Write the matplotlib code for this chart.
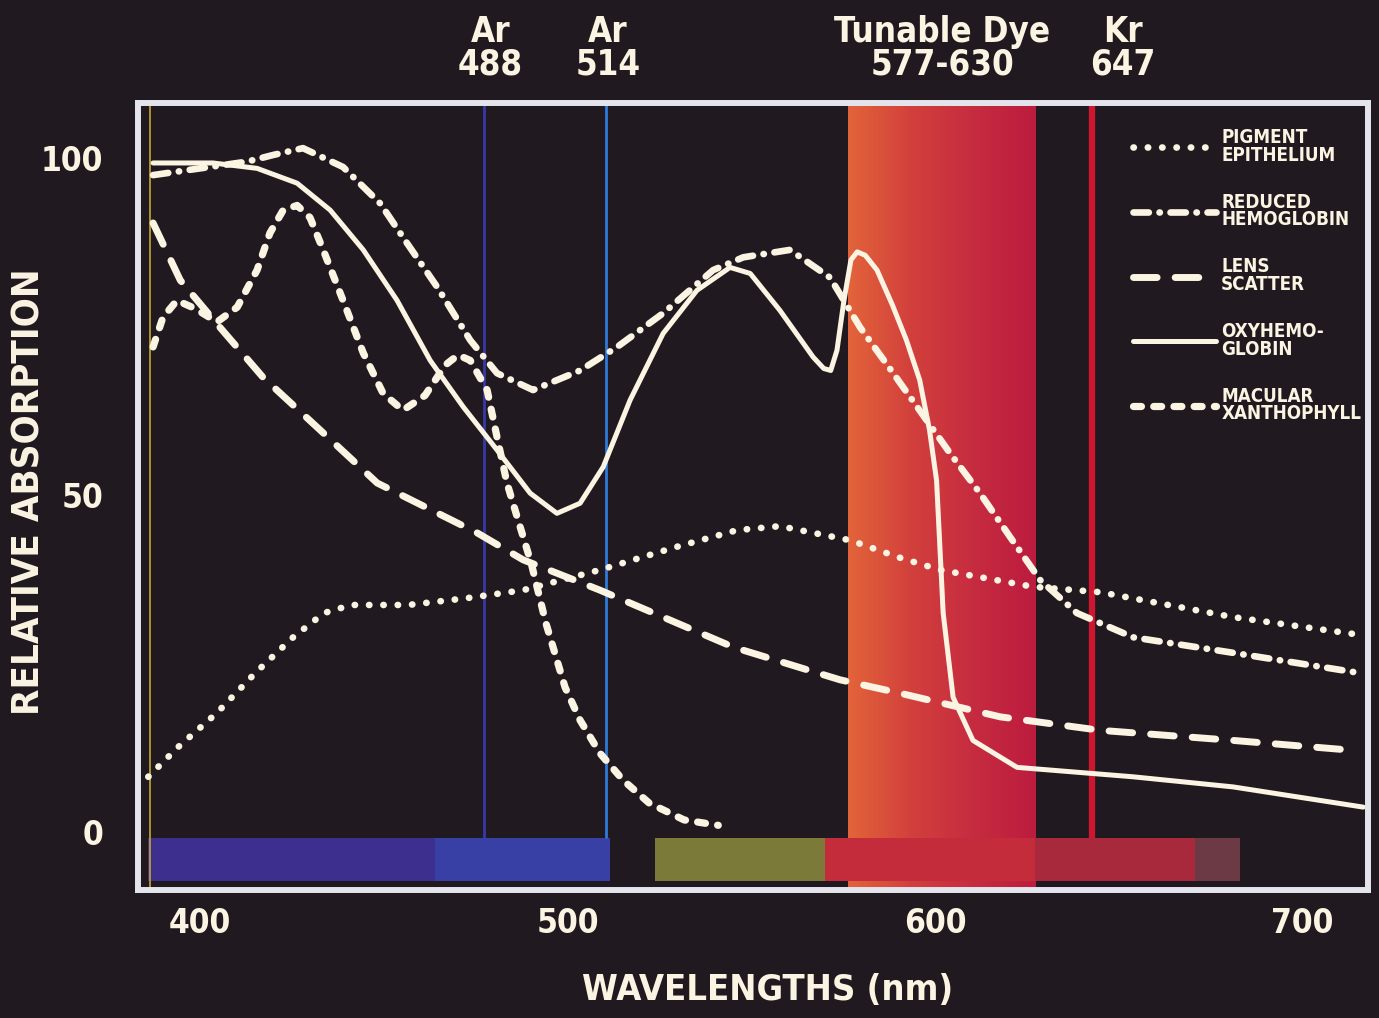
import numpy as np
import matplotlib
matplotlib.use("Agg")
import matplotlib.pyplot as plt
from matplotlib.colors import LinearSegmentedColormap
import matplotlib.transforms as mtransforms

plt.rcParams['font.family'] = ['DejaVu Sans']
plt.rcParams['font.stretch'] = 'condensed'
plt.rcParams['font.weight'] = 'bold'

# ---- data (wavelength nm, relative absorption) ----
pigment_nm = [385.9, 394.0, 404.6, 415.0, 425.3, 433.7, 441.1, 456.6, 472.4, 487.9, 508.8,
              529.5, 546.1, 557.8, 576.9, 590.5, 601.4, 626.7, 644.9, 681.1, 716.5]
pigment_val = [8.2, 12.6, 17.7, 23.6, 28.9, 32.5, 33.7, 33.7, 34.7, 35.9, 38.9,
               42.3, 44.8, 45.4, 43.3, 40.7, 38.9, 36.4, 35.6, 31.9, 29.2]

reduced_nm = [387.2, 400.0, 412.8, 420.0, 428.0, 438.9, 449.0, 456.3, 464.5, 473.5, 480.8,
              490.6, 503.4, 513.5, 526.0, 539.6, 547.8, 560.5, 571.4, 579.6, 588.6, 604.1,
              612.2, 620.4, 628.6, 638.6, 653.9, 681.1, 715.6]
reduced_val = [97.5, 98.5, 99.5, 100.5, 101.5, 98.7, 93.3, 87.4, 80.9, 73.0, 68.1,
               65.6, 68.5, 72.0, 77.0, 83.4, 85.3, 86.4, 82.3, 74.9, 68.1, 56.2,
               50.3, 43.8, 37.4, 32.5, 28.9, 26.6, 23.6]

lens_nm = [387.2, 394.6, 405.4, 417.1, 431.8, 448.2, 475.4, 487.9, 508.8, 545.3, 574.1,
           590.5, 617.7, 644.9, 681.1, 712.1]
lens_val = [90.4, 81.9, 74.9, 67.5, 60.1, 51.8, 44.4, 40.4, 35.9, 27.4, 22.6,
            20.6, 17.1, 15.1, 13.6, 12.2]

oxy_nm = [387.2, 403.5, 415.5, 426.4, 435.4, 444.4, 453.6, 462.6, 471.6, 480.8, 489.8,
          497.1, 503.4, 509.7, 517.0, 526.0, 535.2, 544.2, 549.7, 557.8, 566.8, 569.7,
          571.6, 573.3, 575.2, 577.1, 578.8, 581.0, 584.2, 588.4, 592.2, 595.8, 598.5,
          600.4, 602.2, 604.9, 610.3, 622.3, 653.9, 681.1, 716.5]
oxy_val = [99.3, 99.3, 98.5, 96.3, 92.3, 86.4, 78.9, 70.0, 63.1, 56.7, 50.3,
           47.3, 48.8, 54.2, 64.1, 74.0, 80.4, 83.8, 82.9, 77.4, 70.5, 68.8,
           68.5, 71.5, 78.9, 84.9, 86.1, 85.6, 83.4, 78.2, 73.0, 67.1, 59.6,
           52.2, 32.5, 20.0, 13.6, 9.6, 8.2, 6.7, 3.7]

macular_nm = [387.2, 389.9, 393.7, 398.6, 404.6, 410.1, 415.5, 419.0, 422.6, 426.4, 429.9,
              433.5, 438.9, 444.4, 449.8, 455.2, 461.2, 466.7, 470.2, 473.5, 478.1, 480.8,
              483.5, 486.8, 490.1, 494.1, 499.3, 503.4, 508.8, 515.1, 522.2, 531.7, 541.0]
macular_val = [72.0, 76.4, 78.9, 77.7, 75.7, 77.9, 83.4, 88.9, 92.3, 93.0, 91.2,
               86.4, 78.9, 71.1, 65.1, 62.6, 64.8, 69.3, 70.8, 70.0, 65.6, 58.6,
               51.8, 45.8, 39.9, 31.0, 21.5, 16.6, 11.7, 7.7, 4.3, 1.8, 1.0]

labels = ["PIGMENT\nEPITHELIUM", "REDUCED\nHEMOGLOBIN", "LENS\nSCATTER",
          "OXYHEMO-\nGLOBIN", "MACULAR\nXANTHOPHYLL"]

# laser lines as drawn, and their captions
ar_lines = [477.3, 510.5]
kr_line = 642.7
dye_band = (576.3, 627.2)
top_text = ["Ar\n488", "Ar\n514", "Tunable Dye\n577-630", "Kr\n647"]
top_text_x = [479.0, 511.0, 602.0, 651.0]

# spectrum strip along the bottom
spec_edges = [(385.9, 463.9), (463.9, 511.6), (523.8, 570.1), (570.1, 627.2),
              (627.2, 670.7), (670.7, 683.0)]
spec_colors = ['#3c2f8e', '#3840a6', '#7c7a38', '#c42c3c', '#a8283c', '#6b3a44']

xticks = [400, 500, 600, 700]
yticks = [0, 50, 100]

bg = '#201a20'
ink = '#fbf4e2'

fig = plt.figure(figsize=(13.79, 10.18), dpi=100, facecolor=bg)
ax = fig.add_axes([138 / 1379, 128 / 1018, 1230 / 1379, 787 / 1018])
ax.set_facecolor(bg)

# dye band with an orange -> crimson gradient
cmap = LinearSegmentedColormap.from_list('dye', ['#e2643a', '#d2403c', '#c62c40', '#bc1c3e'])
ax.imshow(np.linspace(0, 1, 200).reshape(1, -1), cmap=cmap, aspect='auto',
          extent=[dye_band[0], dye_band[1], -8.6, 108.2], zorder=0.5)

for (a, b), c in zip(spec_edges, spec_colors):
    ax.fill_between([a, b], [-7.3, -7.3], [-0.9, -0.9], color=c, lw=0, zorder=1)

ax.vlines(386.4, -8.6, 108.2, color='#c8a830', lw=1.2, zorder=1.2)
ax.vlines(ar_lines[0], -0.9, 108.2, color='#3838a8', lw=2.0, zorder=1.5)
ax.vlines(ar_lines[1], -0.9, 108.2, color='#2f7ad8', lw=2.0, zorder=1.5)
ax.vlines(kr_line, -0.9, 108.2, color='#d0152e', lw=4.5, zorder=1.5)

ax.plot(pigment_nm, pigment_val, color=ink, lw=4.8, linestyle=(0, (0.05, 2.1)),
        dash_capstyle='round', label=labels[0], zorder=3)
ax.plot(reduced_nm, reduced_val, color=ink, lw=4.8, linestyle=(0, (2.3, 1.6, 0.05, 1.6)),
        dash_capstyle='round', label=labels[1], zorder=3)
ax.plot(lens_nm, lens_val, color=ink, lw=5.0, linestyle=(0, (3.4, 2.6)),
        dash_capstyle='round', label=labels[2], zorder=3)
ax.plot(oxy_nm, oxy_val, color=ink, lw=3.6, solid_capstyle='round',
        solid_joinstyle='round', label=labels[3], zorder=3)
ax.plot(macular_nm, macular_val, color=ink, lw=5.2, linestyle=(0, (1.1, 1.7)),
        dash_capstyle='round', label=labels[4], zorder=3)

ax.set_xlim(383.1, 717.8)
ax.set_ylim(-8.6, 108.2)

for s in ax.spines.values():
    s.set_color('#e4e4ec')
    s.set_linewidth(4.3)
    s.set_zorder(4)

ax.set_xticks(xticks)
ax.set_yticks(yticks)
ax.tick_params(length=0, labelsize=24, labelcolor=ink)
ax.tick_params(axis='x', pad=12)
ax.tick_params(axis='y', pad=25)

ax.text(0.512, -0.127, "WAVELENGTHS (nm)", transform=ax.transAxes, ha='center', va='center',
        fontsize=26, color=ink)
ax.text(-0.088, 0.506, "RELATIVE ABSORPTION", transform=ax.transAxes, ha='center', va='center',
        rotation=90, fontsize=27.5, color=ink)

trans = mtransforms.blended_transform_factory(ax.transData, ax.transAxes)
for t, x in zip(top_text, top_text_x):
    ax.text(x, 1.07, t, transform=trans, ha='center', va='center', fontsize=25,
            color=ink, linespacing=0.95)

leg = ax.legend(loc='upper left', bbox_to_anchor=(0.809, 0.968), frameon=False,
                handlelength=4.4, handletextpad=0.3, labelspacing=1.5,
                borderpad=0, borderaxespad=0, fontsize=13.5)
for t in leg.get_texts():
    t.set_color(ink)
    t.set_linespacing(0.9)

fig.savefig("out.png", dpi=100, facecolor=bg)
